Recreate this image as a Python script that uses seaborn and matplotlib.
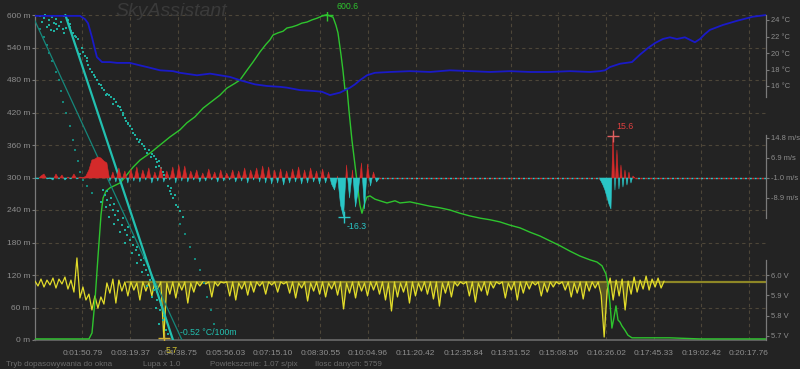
import numpy as np
import pandas as pd
import matplotlib
matplotlib.use("Agg")
import matplotlib.pyplot as plt
import seaborn as sns

# ---------------- data ----------------
n_samples = 5759
time_tick_idx = [374, 749, 1124, 1499, 1874, 2249, 2624, 2999, 3374, 3749, 4124, 4499, 4874, 5249, 5624]
time_tick_labels = ["0:01:50.79", "0:03:19.37", "0:04:38.75", "0:05:56.03", "0:07:15.10",
                    "0:08:30.55", "0:10:04.96", "0:11:20.42", "0:12:35.84", "0:13:51.52",
                    "0:15:08.56", "0:16:26.02", "0:17:45.33", "0:19:02.42", "0:20:17.76"]

alt_ticks = [0, 60, 120, 180, 240, 300, 360, 420, 480, 540, 600]
temp_ticks = [16, 18, 20, 22, 24]
speed_ticks = [-8.9, -1.0, 6.9, 14.8]
volt_ticks = [5.7, 5.8, 5.9, 6.0]

# altitude (m) vs sample index
alt_idx = [0, 197, 425, 449, 473, 496, 520, 536, 559, 591, 670, 717, 772, 827, 906, 985, 1064, 1142,
           1197, 1260, 1324, 1379, 1457, 1512, 1576, 1615, 1670, 1717, 1773, 1820, 1851, 1875, 1914,
           1954, 1985, 2025, 2064, 2103, 2143, 2182, 2221, 2261, 2300, 2324, 2348, 2371, 2387, 2411,
           2426, 2442, 2458, 2473, 2497, 2521, 2545, 2560, 2576, 2592, 2615, 2639, 2678, 2718, 2773,
           2836, 2875, 2954, 3033, 3112, 3191, 3269, 3348, 3427, 3506, 3584, 3663, 3742, 3821, 3900,
           3978, 4057, 4136, 4215, 4293, 4372, 4427, 4467, 4498, 4514, 4530, 4545, 4561, 4577, 4593,
           4609, 4624, 4648, 4671, 4703, 4805, 5002, 5239, 5759]
alt_m = [2, 2, 2, 13, 74, 153, 231, 262, 275, 281, 290, 303, 319, 332, 345, 360, 375, 388,
         401, 412, 428, 438, 452, 465, 474, 480, 498, 513, 532, 546, 554, 563, 567,
         570, 576, 578, 581, 585, 587, 591, 594, 598, 600.6, 598, 596, 581, 567, 526,
         498, 462, 465, 425, 369, 323, 277, 249, 234, 249, 264, 266, 260, 257, 253,
         257, 253, 255, 251, 247, 244, 240, 234, 229, 225, 222, 218, 212, 207, 199,
         192, 183, 174, 164, 155, 148, 144, 137, 122, 102, 68, 22, 41, 63, 37,
         33, 26, 18, 9, 4, 4, 4, 2, 2]
alt_peak = (2300, 600.6)

# temperature (deg C) vs sample index
temp_idx = [0, 355, 394, 418, 449, 473, 488, 528, 591, 646, 748, 827, 882, 985, 1087, 1142, 1276,
            1379, 1457, 1536, 1615, 1733, 1828, 1930, 1985, 2088, 2190, 2261, 2324, 2403, 2482,
            2521, 2560, 2615, 2678, 2797, 2954, 3112, 3269, 3427, 3584, 3742, 3900, 4057, 4215,
            4372, 4451, 4490, 4530, 4609, 4703, 4766, 4829, 4884, 4947, 5002, 5057, 5120, 5199,
            5239, 5278, 5317, 5420, 5530, 5656, 5759]
temp_c = [24.5, 24.5, 24.1, 23.6, 21.9, 20.4, 19.5, 18.9, 18.9, 18.8, 18.8, 18.5, 18.3, 17.9, 17.8,
          17.6, 17.3, 17.5, 17.3, 17.1, 16.7, 16.2, 16.0, 15.9, 15.8, 15.5, 15.4, 15.3, 14.9, 15.2,
          15.8, 16.2, 16.7, 17.3, 17.6, 17.7, 17.8, 17.7, 17.9, 17.8, 17.7, 17.8, 17.7, 17.7, 17.8,
          17.7, 17.8, 17.9, 18.3, 18.7, 18.9, 19.8, 20.6, 21.2, 21.7, 21.9, 21.7, 21.9, 21.3,
          21.7, 22.3, 22.8, 23.4, 23.9, 24.4, 24.6]

# vertical speed (m/s): climb/landing segments, regular sampling
speed_zero = -1.0
speed1_start, speed1_step = 0, 23.6
speed1 = [-1.00, -1.40, -0.21, 0.58, -1.40, -1.00, -1.79, 0.58, -1.40, 0.19,
          -1.79, -0.60, -1.40, 0.58, -1.40, -0.60, -1.00, -0.21, 2.16, 6.11,
          6.51, 7.30, 6.91, 5.72, 4.93, -2.19, 1.37, -2.58, 2.95, -1.79,
          1.77, -2.98, 2.56, -2.19, 3.35, -2.58, 2.16, -1.79, 2.95, -2.98,
          1.37, -2.19, 3.35, -2.58, 1.77, -1.79, 3.35, -2.98, 4.14, -2.19,
          3.74, -2.58, 1.77, -1.79, 2.16, -2.58, 0.98, -2.19, 2.56, -1.79,
          1.37, -2.58, 2.16, -2.19, 0.98, -1.79, 2.16, -2.58, 1.77, -2.19,
          2.95, -2.98, 2.16, -1.79, 2.95, -2.58, 3.74, -2.98, 3.35, -3.37,
          2.16, -2.98, 2.56, -3.77, 1.77, -2.98, 2.56, -2.58, 3.35, -3.37,
          2.16, -2.98, 2.95, -2.58, 1.77, -3.37, 2.56, -2.98, 1.37, -3.37,
          -5.74, -0.21, -11.67, -16.3, 4.14, -8.91, 2.16, -12.46, -5.35, 4.93,
          -13.25, 4.53, -4.16, 1.37, -2.58, -1.00]
speed2_start, speed2_step = 4443, 15.76
speed2 = [-1.00, -2.19, -3.77, -5.74, -8.51, -11.28, -13.25, 15.6, -5.74, 10.07,
          -5.35, 4.14, -4.56, 2.16, -3.77, 1.37, -2.98, -0.21, -1.00]
speed_quiet_idx = [2714, 4443, np.nan, 4727, 5759]
speed_quiet_v = [-1.0, -1.0, np.nan, -1.0, -1.0]
speed_min = (2434, -16.3)
speed_max = (4553, 15.6)

# supply voltage (V)
volt_start, volt_step = 0, 23.6
volt_v = [5.970, 5.946, 5.980, 5.941, 5.975, 5.951, 5.985, 5.936, 5.980, 5.956, 5.990, 5.931, 5.975, 5.916,
          6.084, 5.887, 5.941, 5.877, 5.906, 5.828, 5.897, 5.837, 5.892, 5.857,
          5.961, 5.911, 5.980, 5.862, 5.975, 5.921, 5.966, 5.897, 5.966, 5.926,
          5.961, 5.877, 5.966, 5.921, 5.961, 5.897, 5.966, 5.931, 5.966, 5.690,
          5.961, 5.906, 5.966, 5.887, 5.961, 5.926, 5.966, 5.862, 5.961, 5.916,
          5.966, 5.946, 5.966, 5.956, 5.966, 5.892, 5.966, 5.946, 5.966, 5.961,
          5.966, 5.897, 5.966, 5.877, 5.961, 5.931, 5.966, 5.901, 5.966, 5.916,
          5.966, 5.946, 5.966, 5.906, 5.966, 5.951, 5.966, 5.916, 5.966, 5.956,
          5.966, 5.911, 5.966, 5.887, 5.961, 5.936, 5.966, 5.872, 5.961, 5.921,
          5.966, 5.906, 5.966, 5.892, 5.961, 5.931, 5.966, 5.901, 5.966, 5.833,
          5.961, 5.911, 5.966, 5.887, 5.966, 5.921, 5.961, 5.897, 5.966, 5.926,
          5.966, 5.906, 5.966, 5.877, 5.961, 5.823, 5.966, 5.892, 5.961, 5.916,
          5.966, 5.862, 5.966, 5.897, 5.961, 5.921, 5.966, 5.906, 5.966, 5.882,
          5.966, 5.847, 5.961, 5.911, 5.966, 5.892, 5.966, 5.946, 5.966, 5.956,
          5.966, 5.897, 5.966, 5.867, 5.961, 5.921, 5.966, 5.901, 5.966, 5.936,
          5.966, 5.956, 5.966, 5.887, 5.961, 5.926, 5.966, 5.877, 5.966, 5.911,
          5.966, 5.931, 5.966, 5.951, 5.966, 5.897, 5.961, 5.916, 5.966, 5.941,
          5.966, 5.956, 5.966, 5.926, 5.966, 5.892, 5.961, 5.911, 5.966, 5.882,
          5.966, 5.921, 5.966, 5.936, 5.966, 5.901, 5.695, 5.926, 5.985, 5.877,
          5.975, 5.897, 5.980, 5.828, 5.970, 5.906, 5.990, 5.916, 5.975, 5.931,
          5.995, 5.926, 5.980, 5.941, 5.985, 5.936, 5.970]
volt_ref_idx = [725, 5759]
volt_ref_v = [5.966, 5.966]
volt_min = (1015, 5.690)

# temperature/altitude profile scatter (deg C, m)
prof_a_t = [16.15, 16.25, 16.30, 16.40, 16.50, 16.55, 16.60, 16.70, 16.75, 16.85, 16.90, 17.00, 17.05,
            16.95, 16.20, 16.35, 16.45, 16.65, 17.10, 17.20, 17.25, 17.35, 17.45, 17.50, 17.60, 17.70,
            17.80, 17.85, 18.00, 18.10, 18.20, 18.35, 18.45, 18.55, 18.60, 18.70, 18.80, 18.90, 19.00,
            19.15, 19.30, 19.40, 19.50, 19.60, 19.70, 19.75, 19.85, 19.90, 20.00, 20.10, 20.20, 20.30,
            17.40, 17.55, 17.65, 17.90, 18.05, 18.30, 18.50, 18.65, 18.75, 18.95, 19.10, 19.25, 19.45,
            19.55, 19.65, 19.80, 19.95, 20.05, 17.30, 17.50, 17.75, 17.95, 18.15, 18.40, 18.55, 18.85,
            19.05, 19.20, 19.35, 19.60, 19.75, 19.95, 20.15, 16.60, 16.80, 17.00, 17.15, 16.40, 16.55,
            16.85, 18.25, 18.70, 19.50]
prof_a_m = [598, 594, 600, 590, 596, 585, 592, 580, 588, 598, 576, 584, 570,
            590, 588, 578, 572, 575, 566, 560, 555, 540, 525, 515, 500, 490,
            480, 472, 462, 455, 448, 440, 430, 420, 410, 400, 390, 378, 366,
            358, 350, 343, 335, 322, 310, 298, 285, 275, 262, 250, 238, 228,
            532, 508, 495, 470, 452, 445, 425, 405, 395, 372, 362, 345, 340,
            328, 318, 300, 280, 268, 528, 520, 485, 465, 452, 432, 415, 382,
            370, 352, 338, 330, 305, 270, 245, 583, 574, 578, 562, 582, 570,
            567, 436, 398, 320]
prof_b_t = [17.97, 18.03, 18.09, 18.17, 18.26, 18.32, 18.40, 18.52, 18.60, 18.67, 18.75, 18.84, 18.93,
            19.01, 19.07, 19.16, 19.22, 19.28, 19.33, 19.45, 19.54, 19.62, 19.71, 19.80,
            18.10, 18.20, 17.92, 18.30, 18.05, 18.40, 18.15, 18.55, 18.30, 18.70, 18.45, 18.85, 18.60,
            18.95, 18.80, 19.15, 18.95, 19.30, 19.10, 19.40, 19.25, 19.55, 19.40, 19.65, 19.50, 19.75,
            19.60, 19.85]
prof_b_m = [277, 268, 258, 249, 240, 231, 221, 212, 203, 194, 185, 175, 166,
            157, 148, 138, 129, 120, 111, 92, 74, 55, 37, 18,
            275, 262, 255, 252, 245, 238, 228, 225, 215, 208, 200, 190, 180,
            172, 160, 152, 142, 135, 125, 115, 100, 88, 80, 65, 60, 45,
            30, 12]
prof_c_t = [16.15, 16.25, 16.35, 16.40, 16.50, 16.60, 16.70, 16.75, 16.80, 16.90, 17.00, 17.10, 17.15,
            17.25, 17.30, 17.40, 17.50, 17.65, 20.20, 20.35, 20.50, 20.65, 20.78, 20.90, 21.00, 21.10,
            21.20]
prof_c_m = [575, 560, 545, 530, 515, 495, 480, 460, 440, 420, 395, 370, 350,
            330, 310, 295, 285, 272, 215, 195, 172, 150, 129, 105, 80, 55,
            30]
lapse_fit_m = [0, 600]
lapse_fit_t = [20.0, 16.88]        # -0.52 degC / 100 m
lapse_asc_m = [0, 600]
lapse_asc_t = [20.26, 15.92]

# ---------------- style ----------------
BG = "#232323"
GRID = "#4d4638"
TXT = "#8e8e8e"
SPINE = "#7a7a7a"
GREEN = "#2ec42e"
BLUE = "#1a1ac8"
YELLOW = "#e2dc2a"
OLIVE = "#8e8726"
RED = "#d42a2a"
CYAN = "#2ac6c6"
TEAL = "#22c0b0"
TEAL_D = "#16877b"
FS = 6.0
FS_R = 5.4

sns.set_theme(style="dark", rc={"axes.facecolor": BG, "figure.facecolor": BG})
plt.rcParams["font.family"] = ["Liberation Sans", "DejaVu Sans"]

W, H = 800, 369
PX_TOP, PX_BOT, PX_L, PX_R = 12, 340, 35, 766


def lims(v1, p1, v2, p2):
    s = (v2 - v1) / (p2 - p1)
    return v1 + (PX_BOT - p1) * s, v1 + (PX_TOP - p1) * s


def vat(v1, p1, v2, p2, p):
    s = (v2 - v1) / (p2 - p1)
    return v1 + (p - p1) * s


fig = plt.figure(figsize=(W / 100, H / 100), dpi=100)
rect = [PX_L / W, 1 - PX_BOT / H, (PX_R - PX_L) / W, (PX_BOT - PX_TOP) / H]
ax = fig.add_axes(rect)
ax.set_facecolor(BG)
ax.set_xlim(0, n_samples)
ax.set_ylim(*lims(0, 340, 600, 15))

# grid
ax.set_xticks(time_tick_idx)
ax.set_xticklabels(time_tick_labels)
ax.set_yticks(alt_ticks)
ax.set_yticklabels([f"{v} m" for v in alt_ticks])
ax.grid(True, color=GRID, linestyle=(0, (3, 3)), linewidth=0.8)
ax.tick_params(axis="x", length=0, pad=7, labelsize=FS, labelcolor=TXT)
ax.tick_params(axis="y", length=2, width=0.8, color=SPINE, pad=1.5, labelsize=FS, labelcolor=TXT)
for s in ("top", "right"):
    ax.spines[s].set_visible(False)
ax.spines["left"].set_color(SPINE)
ax.spines["left"].set_bounds(0, 600)
ax.spines["bottom"].set_color("#6a6a6a")
ax.spines["left"].set_linewidth(0.9)
ax.spines["bottom"].set_linewidth(1.2)

# voltage (drawn first, beneath altitude)
axU = ax.twinx()
axU.set_ylim(*lims(6.0, 275, 5.7, 336))
volt_x = volt_start + volt_step * np.arange(len(volt_v))
volt_df = pd.DataFrame({"idx": volt_x, "V": volt_v})
axU.fill_between(volt_x, volt_v, volt_ref_v[0], where=volt_x >= volt_ref_idx[0],
                 color=OLIVE, alpha=0.5, lw=0)
axU.plot(volt_ref_idx, volt_ref_v, color=OLIVE, lw=1.6, zorder=1)
sns.lineplot(data=volt_df, x="idx", y="V", ax=axU, color=YELLOW, lw=0.9, estimator=None, zorder=2)
axU.plot(*volt_min, marker="+", ms=8, mew=1.0, color="#d0b030", zorder=4)
axU.annotate("5.7", volt_min, xytext=(2, -12), textcoords="offset pixels", color="#d8c830",
             fontsize=FS + 0.3, va="center", ha="left", annotation_clip=False)

# altitude (green)
axA = ax.twinx()
axA.set_ylim(ax.get_ylim())
alt_df = pd.DataFrame({"idx": alt_idx, "alt": alt_m})
sns.lineplot(data=alt_df, x="idx", y="alt", ax=axA, color=GREEN, lw=1.0, estimator=None)
axA.plot(*alt_peak, marker="+", ms=8, mew=1.0, color=GREEN)
axA.annotate("600.6", alt_peak, xytext=(10, 8), textcoords="offset pixels", color=GREEN,
             fontsize=FS + 0.3, va="center", ha="left", annotation_clip=False)

# profile scatter (temperature vs altitude)
axs = fig.add_axes(rect, label="profile")
axs.patch.set_visible(False)
axs.set_xlim(16.0, 16.0 + (PX_R - PX_L) / 34.5)
axs.set_ylim(ax.get_ylim())
axs.axis("off")
sns.scatterplot(x=prof_c_t, y=prof_c_m, ax=axs, s=2, color=TEAL_D, linewidth=0, marker="s")
sns.scatterplot(x=prof_a_t, y=prof_a_m, ax=axs, s=3, color="#1fae9e", linewidth=0, marker="s")
sns.scatterplot(x=prof_b_t, y=prof_b_m, ax=axs, s=3, color="#1fae9e", linewidth=0, marker="s")
axs.plot(lapse_asc_t, lapse_asc_m, color=TEAL_D, lw=0.9)
axs.plot(lapse_fit_t, lapse_fit_m, color=TEAL, lw=1.6)
axs.text(20.2, 14, "-0.52 °C/100m", color=TEAL, fontsize=FS + 0.3, va="center", ha="left")

# temperature (blue)
axT = ax.twinx()
axT.set_ylim(*lims(24, 20, 16, 86))
temp_df = pd.DataFrame({"idx": temp_idx, "T": temp_c})
sns.lineplot(data=temp_df, x="idx", y="T", ax=axT, color=BLUE, lw=1.3, estimator=None)

# vertical speed
axV = ax.twinx()
axV.set_ylim(*lims(-1.0, 178, 14.8, 138))


def draw_speed(axx, x, v):
    x = np.asarray(x, float)
    v = np.asarray(v, float)
    axx.fill_between(x, speed_zero, v, where=v >= speed_zero, interpolate=True,
                     color=RED, lw=0.4, edgecolor=RED)
    axx.fill_between(x, speed_zero, v, where=v <= speed_zero, interpolate=True,
                     color=CYAN, lw=0.4, edgecolor=CYAN)


draw_speed(axV, speed1_start + speed1_step * np.arange(len(speed1)), speed1)
draw_speed(axV, speed2_start + speed2_step * np.arange(len(speed2)), speed2)
axV.plot(speed_quiet_idx, speed_quiet_v, color=RED, lw=1.0, ls=(0, (1.5, 2)))
axV.plot(speed_quiet_idx, speed_quiet_v, color=CYAN, lw=1.0, ls=(1.75, (1.5, 2)))
axV.plot(*speed_min, marker="+", ms=9, mew=1.0, color=CYAN)
axV.annotate("-16.3", speed_min, xytext=(3, -10), textcoords="offset pixels", color=CYAN,
             fontsize=FS + 0.3, va="center", ha="left")
axV.plot(*speed_max, marker="+", ms=9, mew=1.0, color="#e06060")
axV.annotate("15.6", speed_max, xytext=(3, 9), textcoords="offset pixels", color="#e04040",
             fontsize=FS + 0.3, va="center", ha="left")

# right-hand axes styling
specs = [
    (axT, temp_ticks, [f"{v} °C" for v in temp_ticks], (vat(24, 20, 16, 86, 97), vat(24, 20, 16, 86, 15))),
    (axV, speed_ticks, [f"{v:.1f} m/s" for v in speed_ticks],
     (vat(-1.0, 178, 14.8, 138, 218), vat(-1.0, 178, 14.8, 138, 135))),
    (axU, volt_ticks, [f"{v:.1f} V" for v in volt_ticks],
     (vat(6.0, 275, 5.7, 336, 340), vat(6.0, 275, 5.7, 336, 260))),
]
for a in (axA, axT, axV, axU):
    a.set_xlim(0, n_samples)
    a.set_xlabel("")
    a.set_ylabel("")
    a.grid(False)
    for s in ("top", "left", "bottom", "right"):
        a.spines[s].set_visible(False)
axA.set_yticks([])
for a, ticks, labels, bounds in specs:
    a.set_yticks(ticks)
    a.set_yticklabels(labels)
    a.spines["right"].set_visible(True)
    a.spines["right"].set_color(SPINE)
    a.spines["right"].set_linewidth(0.9)
    a.spines["right"].set_bounds(*bounds)
    a.tick_params(axis="y", length=2.0, width=0.8, color=SPINE, pad=1.8, labelsize=FS_R, labelcolor=TXT)

# watermark and status bar
fig.text(115 / W, 1 - 11 / H, "SkyAssistant", fontsize=14, fontstyle="italic", color="#3a3a3a",
         va="center", ha="left")
for x0, s in [(6, "Tryb dopasowywania do okna"), (143, "Lupa x 1.0"),
              (210, "Powiekszenie: 1.07 s/pix"), (315, "Ilosc danych: 5759")]:
    fig.text(x0 / W, 1 - 364 / H, s, fontsize=5.8, color="#6c6c6c", va="center", ha="left")

fig.savefig("out.png", dpi=100, facecolor=BG)
